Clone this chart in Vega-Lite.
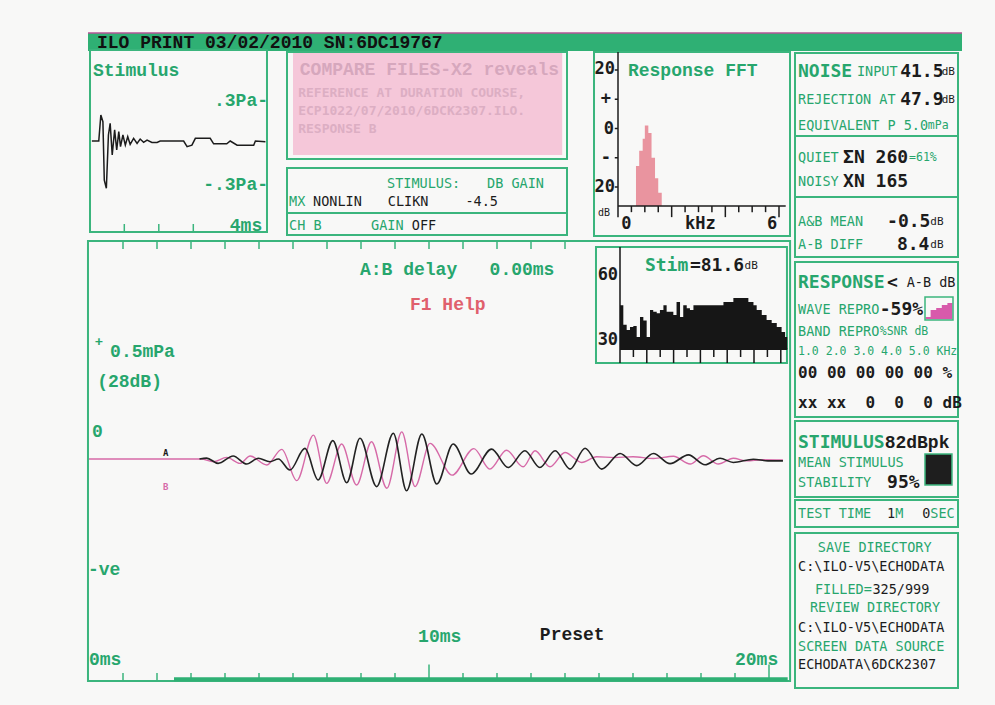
{
"$schema":"https://vega.github.io/schema/vega-lite/v6.json",
"width":995,"height":705,"padding":0,"autosize":"none",
"background":"#f8f8f7",
"config":{"view":{"stroke":null},"axis":{"disable":true},"legend":{"disable":true}},
"datasets":{
"stim":[{"t":0.06,"p":0},{"t":0.26,"p":0},{"t":0.32,"p":0.186},{"t":0.38,"p":0.138},{"t":0.42,"p":-0.279},{"t":0.48,"p":-0.338},{"t":0.54,"p":0.043},{"t":0.59,"p":0.126},{"t":0.65,"p":-0.1},{"t":0.72,"p":0.079},{"t":0.78,"p":-0.064},{"t":0.84,"p":0.067},{"t":0.89,"p":-0.04},{"t":0.96,"p":0.043},{"t":1.03,"p":-0.029},{"t":1.1,"p":0.031},{"t":1.17,"p":-0.024},{"t":1.27,"p":0.019},{"t":1.37,"p":-0.017},{"t":1.46,"p":0.014},{"t":1.56,"p":-0.01},{"t":1.66,"p":0.007},{"t":1.8,"p":-0.01},{"t":1.95,"p":-0.01},{"t":2.04,"p":0},{"t":2.72,"p":0},{"t":2.82,"p":-0.04},{"t":2.96,"p":-0.03},{"t":3.06,"p":0.019},{"t":3.49,"p":0.019},{"t":3.59,"p":-0.02},{"t":3.97,"p":-0.02},{"t":4.07,"p":0},{"t":4.27,"p":-0.03},{"t":4.75,"p":-0.03},{"t":4.8,"p":0},{"t":5.09,"p":-0.005}],
"stm_ticks":[{"t":1},{"t":2},{"t":3}],
"stm_text":[{"text":"Stimulus","t":0.093,"p":0.5,"role":"title"},{"text":".3Pa-","t":5.165,"p":0.286,"role":"scale"},{"text":"-.3Pa-","t":5.165,"p":-0.314,"role":"scale"},{"text":"4ms","t":4.997,"p":-0.607,"role":"scale"}],
"mid_boxes":[{"from":0,"to":5},{"from":5.5,"to":8.5}],
"mid_text":[{"col":1.6,"line":1,"text":"COMPARE FILES-X2 reveals","role":"fadedTitle"},{"col":1.4,"line":2,"text":"REFERENCE AT DURATION COURSE,","role":"faded"},{"col":1.4,"line":3,"text":"ECP1022/07/2010/6DCK2307.ILO.","role":"faded"},{"col":1.4,"line":4,"text":"RESPONSE B","role":"faded"},{"col":12.5,"line":6,"text":"STIMULUS:","role":"label"},{"col":25,"line":6,"text":"DB GAIN","role":"label"},{"col":0.25,"line":7,"text":"MX","role":"label"},{"col":3.25,"line":7,"text":"NONLIN","role":"text"},{"col":12.6,"line":7,"text":"CLIKN","role":"text"},{"col":22.3,"line":7,"text":"-4.5","role":"text"},{"col":0.25,"line":8,"text":"CH B","role":"label"},{"col":10.5,"line":8,"text":"GAIN","role":"label"},{"col":15.6,"line":8,"text":"OFF","role":"text"}],
"fft":[{"f":0.67,"d":-12.8},{"f":0.79,"d":-7.6},{"f":0.92,"d":-3.5},{"f":1.0,"d":1.0},{"f":1.13,"d":-1.5},{"f":1.25,"d":-10},{"f":1.38,"d":-17},{"f":1.5,"d":-22},{"f":1.63,"d":-26.5}],
"fft_ticks":[{"f":0,"major":true},{"f":0.5,"major":false},{"f":1,"major":false},{"f":1.5,"major":false},{"f":2,"major":true},{"f":2.5,"major":false},{"f":3,"major":false},{"f":3.5,"major":false},{"f":4,"major":true},{"f":4.5,"major":false},{"f":5,"major":false},{"f":5.5,"major":false},{"f":6,"major":true}],
"fft_yticks":[{"d":20},{"d":10},{"d":0},{"d":-10},{"d":-20}],
"fft_text":[{"text":"Response FFT","f":0.37,"d":19.7,"role":"title"},{"text":"20","f":-0.11,"d":20.5,"role":"axis"},{"text":"+","f":-0.26,"d":10,"role":"axis"},{"text":"0","f":-0.15,"d":0,"role":"axis"},{"text":"-","f":-0.26,"d":-10,"role":"axis"},{"text":"20","f":-0.11,"d":-20,"role":"axis"},{"text":"dB","f":-0.75,"d":-29,"role":"unit"},{"text":"0","f":0.12,"d":-32.5,"role":"tick"},{"text":"kHz","f":2.5,"d":-32.5,"role":"tick"},{"text":"6","f":5.55,"d":-32.5,"role":"tick"}],
"rc_boxes":[{"from":0,"to":3.5},{"from":3.5,"to":5.5},{"from":5.5,"to":7.5},{"from":7.55,"to":13.5},{"from":13.55,"to":16.5},{"from":16.55,"to":17.5},{"from":17.55,"to":24.5}],
"icon":[{"b":0.1,"l":1.3},{"b":1,"l":4.3},{"b":2,"l":5.2},{"b":3,"l":6.5},{"b":4,"l":7.4},{"b":4.9,"l":7.4}],
"rc":[{"line":1,"col":0.37,"text":"NOISE","role":"heading"},{"line":1,"col":7.6,"text":"INPUT","role":"label"},{"line":1,"col":12.9,"text":"41.5","role":"value"},{"line":1,"col":18.0,"text":"dB","role":"unit"},
{"line":2,"col":0.37,"text":"REJECTION AT","role":"label"},{"line":2,"col":12.9,"text":"47.9","role":"value"},{"line":2,"col":18.0,"text":"dB","role":"unit"},
{"line":3,"col":0.37,"text":"EQUIVALENT P 5.0","role":"label"},{"line":3,"col":16.3,"text":"mPa","role":"sublabel"},
{"line":4,"col":0.37,"text":"QUIET","role":"label"},{"line":4,"col":5.9,"text":"ΣN 260","role":"value"},{"line":4,"col":14.0,"text":"=61%","role":"sublabel"},
{"line":5,"col":0.37,"text":"NOISY","role":"label"},{"line":5,"col":5.9,"text":"XN 165","role":"value"},
{"line":6,"col":0.37,"text":"A&B MEAN","role":"label"},{"line":6,"col":11.3,"text":"-0.5","role":"value"},{"line":6,"col":16.6,"text":"dB","role":"unit"},
{"line":7,"col":0.37,"text":"A-B DIFF","role":"label"},{"line":7,"col":12.5,"text":"8.4","role":"value"},{"line":7,"col":16.6,"text":"dB","role":"unit"},
{"line":8,"col":0.37,"text":"RESPONSE","role":"heading"},{"line":8,"col":11.3,"text":"<","role":"value"},{"line":8,"col":13.7,"text":"A-B dB","role":"text"},
{"line":9,"col":0.37,"text":"WAVE REPRO","role":"label"},{"line":9,"col":10.4,"text":"-59%","role":"value"},
{"line":10,"col":0.37,"text":"BAND REPRO","role":"label"},{"line":10,"col":10.4,"text":"%SNR dB","role":"sublabel"},
{"line":11,"col":0.37,"text":"1.0 2.0 3.0 4.0 5.0 KHz","role":"sublabel"},
{"line":12,"col":0.37,"text":"00 00 00 00 00 %","role":"count"},
{"line":13,"col":0.37,"text":"xx xx\u00a0\u00a00\u00a0\u00a00\u00a0\u00a00 dB","role":"count"},
{"line":14,"col":0.37,"text":"STIMULUS","role":"heading"},{"line":14,"col":11.0,"text":"82dBpk","role":"preset"},
{"line":15,"col":0.37,"text":"MEAN STIMULUS","role":"label"},
{"line":16,"col":0.37,"text":"STABILITY","role":"label"},{"line":16,"col":11.3,"text":"95%","role":"value"},
{"line":17,"col":0.37,"text":"TEST TIME","role":"label"},{"line":17,"col":11.3,"text":"1","role":"text"},{"line":17,"col":12.3,"text":"M","role":"label"},{"line":17,"col":15.6,"text":"0","role":"text"},{"line":17,"col":16.6,"text":"SEC","role":"label"},
{"line":18,"col":2.8,"text":"SAVE DIRECTORY","role":"label"},
{"line":19,"col":0.37,"text":"C:\\ILO-V5\\ECHODATA","role":"text"},
{"line":20,"col":2.45,"text":"FILLED=","role":"label"},{"line":20,"col":9.5,"text":"325/999","role":"text"},
{"line":21,"col":1.84,"text":"REVIEW DIRECTORY","role":"label"},
{"line":22,"col":0.37,"text":"C:\\ILO-V5\\ECHODATA","role":"text"},
{"line":23,"col":0.37,"text":"SCREEN DATA SOURCE","role":"label"},
{"line":24,"col":0.37,"text":"ECHODATA\\6DCK2307","role":"text"}],
"main_top":[{"t":1},{"t":2},{"t":3},{"t":4},{"t":5},{"t":6},{"t":7},{"t":8},{"t":9},{"t":10},{"t":11},{"t":12},{"t":13},{"t":14}],
"main_bottom":[{"t":1,"major":false},{"t":2,"major":false},{"t":3,"major":false},{"t":4,"major":false},{"t":5,"major":false},{"t":6,"major":false},{"t":7,"major":false},{"t":8,"major":false},{"t":9,"major":false},{"t":10,"major":true},{"t":11,"major":false},{"t":12,"major":false},{"t":13,"major":false},{"t":14,"major":false},{"t":15,"major":false},{"t":16,"major":false},{"t":17,"major":false},{"t":18,"major":false},{"t":19,"major":false},{"t":20,"major":true}],
"wave_a":[{"t":3.25,"a":0},{"t":3.46,"a":0.004},{"t":3.8,"a":-0.019},{"t":4.24,"a":0.013},{"t":4.64,"a":-0.022},{"t":4.98,"a":0.003},{"t":5.32,"a":-0.012},{"t":5.57,"a":0.0},{"t":5.91,"a":-0.048},{"t":6.35,"a":0.046},{"t":6.74,"a":-0.091},{"t":7.17,"a":0.08},{"t":7.58,"a":-0.103},{"t":7.97,"a":0.09},{"t":8.46,"a":-0.12},{"t":8.95,"a":0.112},{"t":9.34,"a":-0.138},{"t":9.79,"a":0.109},{"t":10.23,"a":-0.109},{"t":10.71,"a":0.065},{"t":11.24,"a":-0.065},{"t":11.84,"a":0.043},{"t":12.33,"a":-0.037},{"t":12.82,"a":0.036},{"t":13.26,"a":-0.037},{"t":13.71,"a":0.036},{"t":14.15,"a":-0.044},{"t":14.59,"a":0.047},{"t":15.08,"a":-0.044},{"t":15.62,"a":0.024},{"t":16.11,"a":-0.029},{"t":16.6,"a":0.024},{"t":17.09,"a":-0.02},{"t":17.63,"a":0.018},{"t":18.12,"a":-0.025},{"t":18.56,"a":0.003},{"t":18.95,"a":-0.015},{"t":19.54,"a":-0.001},{"t":19.97,"a":-0.008},{"t":20.41,"a":-0.008}],
"wave_b":[{"t":0,"a":0},{"t":3.3,"a":0},{"t":3.66,"a":-0.012},{"t":4.05,"a":0.007},{"t":4.44,"a":-0.019},{"t":4.74,"a":0.013},{"t":5.23,"a":-0.026},{"t":5.67,"a":0.042},{"t":6.11,"a":-0.094},{"t":6.6,"a":0.104},{"t":6.99,"a":-0.106},{"t":7.43,"a":0.065},{"t":7.87,"a":-0.113},{"t":8.31,"a":0.075},{"t":8.76,"a":-0.127},{"t":9.2,"a":0.118},{"t":9.59,"a":-0.12},{"t":10.03,"a":0.068},{"t":10.68,"a":-0.07},{"t":11.32,"a":0.045},{"t":11.79,"a":-0.044},{"t":12.28,"a":0.038},{"t":12.77,"a":-0.034},{"t":13.12,"a":0.036},{"t":13.56,"a":-0.034},{"t":14.0,"a":0.028},{"t":14.49,"a":-0.015},{"t":14.93,"a":0.01},{"t":15.45,"a":0.006},{"t":16.0,"a":0.01},{"t":16.6,"a":0.002},{"t":17.19,"a":0.012},{"t":17.68,"a":-0.022},{"t":18.07,"a":0.014},{"t":18.51,"a":-0.022},{"t":18.95,"a":0.003},{"t":19.34,"a":-0.008},{"t":19.8,"a":-0.003},{"t":20.41,"a":-0.004}],
"main_text":[{"text":"A:B delay\u00a0\u00a0\u00a00.00ms","t":7.97,"a":0.822,"role":"title"},{"text":"F1 Help","t":9.44,"a":0.67,"role":"alert"},{"text":"+","t":0.18,"a":0.509,"role":"label"},{"text":"0.5mPa","t":0.62,"a":0.465,"role":"title"},{"text":"(28dB)","t":0.24,"a":0.335,"role":"title"},{"text":"0","t":0.09,"a":0.117,"role":"title"},{"text":"-ve","t":-0.03,"a":-0.483,"role":"title"},{"text":"10ms","t":9.68,"a":-0.774,"role":"title"},{"text":"Preset","t":13.26,"a":-0.765,"role":"preset"},{"text":"0ms","t":0.0,"a":-0.874,"role":"title"},{"text":"20ms","t":19.0,"a":-0.874,"role":"title"},{"text":"A","t":2.18,"a":0.026,"role":"traceA"},{"text":"B","t":2.18,"a":-0.122,"role":"traceB"}],
"spec":[{"f":0,"d":46},{"f":0.124,"d":37},{"f":0.249,"d":34.6},{"f":0.373,"d":36},{"f":0.497,"d":36.5},{"f":0.622,"d":31.4},{"f":0.746,"d":40.6},{"f":0.871,"d":39},{"f":0.995,"d":31.4},{"f":1.12,"d":43.8},{"f":1.24,"d":43},{"f":1.37,"d":42.4},{"f":1.49,"d":43.8},{"f":1.62,"d":46},{"f":1.74,"d":43},{"f":1.87,"d":43},{"f":1.99,"d":41.5},{"f":2.11,"d":47.5},{"f":2.24,"d":40.6},{"f":2.36,"d":46},{"f":2.49,"d":44.7},{"f":2.61,"d":43.8},{"f":2.74,"d":46},{"f":2.86,"d":46},{"f":3.86,"d":47.5},{"f":4.23,"d":49.4},{"f":4.79,"d":47.5},{"f":4.98,"d":46},{"f":5.1,"d":43.8},{"f":5.29,"d":41.5},{"f":5.47,"d":39.2},{"f":5.66,"d":37.8},{"f":5.85,"d":36},{"f":6.03,"d":33.7},{"f":6.16,"d":31.4},{"f":6.24,"d":31.4}],
"ins_ticks":[{"f":0,"major":true},{"f":0.5,"major":false},{"f":1,"major":true},{"f":1.5,"major":false},{"f":2,"major":true},{"f":2.5,"major":false},{"f":3,"major":true},{"f":3.5,"major":false},{"f":4,"major":true},{"f":4.5,"major":false},{"f":5,"major":true},{"f":5.5,"major":false},{"f":6,"major":true}],
"ins_text":[{"text":"Stim","f":0.93,"d":64.1,"role":"heading"},{"text":"=81.6","f":2.61,"d":64.1,"role":"value"},{"text":"dB","f":4.65,"d":64.1,"role":"unit"},{"text":"60","f":-0.07,"d":60,"role":"axis"},{"text":"30","f":-0.07,"d":30,"role":"axis"}]
},
"layer":[
{"data":{"values":[{}]},"mark":{"type":"rect","color":"#2fb074"},"encoding":{"x":{"datum":0,"type":"quantitative","scale":{"domain":[0,1],"range":[88,962],"nice":false,"zero":false}},"x2":{"datum":1},"y":{"datum":0,"type":"quantitative","scale":{"domain":[0,1],"range":[51,33],"nice":false,"zero":false}},"y2":{"datum":1}}},
{"data":{"values":[{}]},"mark":{"type":"rule","color":"#b45596","strokeWidth":1.5},"encoding":{"x":{"datum":0,"type":"quantitative","scale":{"domain":[0,1],"range":[88,962],"nice":false,"zero":false}},"x2":{"datum":1},"y":{"datum":1,"type":"quantitative","scale":{"domain":[0,1],"range":[51,33],"nice":false,"zero":false}}}},
{"data":{"values":[{"label":"ILO PRINT 03/02/2010 SN:6DC19767"}]},"mark":{"type":"text","align":"left","baseline":"middle","font":"Liberation Mono","fontWeight":"bold","fontSize":18,"color":"#111111"},"encoding":{"x":{"datum":0.0103,"type":"quantitative","scale":{"domain":[0,1],"range":[88,962],"nice":false,"zero":false}},"y":{"datum":0.47,"type":"quantitative","scale":{"domain":[0,1],"range":[51,33],"nice":false,"zero":false}},"text":{"field":"label"}}},

{"data":{"values":[{}]},"mark":{"type":"rect","fill":"#ffffff","fillOpacity":0,"stroke":"#3bb57d","strokeWidth":2},"encoding":{"x":{"datum":0.006,"type":"quantitative","scale":{"domain":[0,5],"range":[89.8,262.3],"nice":false,"zero":false}},"x2":{"datum":5.136},"y":{"datum":0.65,"type":"quantitative","scale":{"domain":[-0.3,0.3],"range":[183,99],"nice":false,"zero":false}},"y2":{"datum":-0.65}}},
{"data":{"name":"stm_ticks"},"mark":{"type":"rule","color":"#3bb57d","strokeWidth":1.5},"encoding":{"x":{"field":"t","type":"quantitative","scale":{"domain":[0,5],"range":[89.8,262.3],"nice":false,"zero":false}},"y":{"datum":-0.65,"type":"quantitative","scale":{"domain":[-0.3,0.3],"range":[183,99],"nice":false,"zero":false}},"y2":{"datum":-0.593}}},
{"data":{"name":"stim"},"mark":{"type":"line","color":"#1c1c1c","strokeWidth":1.5},"encoding":{"x":{"field":"t","type":"quantitative","scale":{"domain":[0,5],"range":[89.8,262.3],"nice":false,"zero":false}},"y":{"field":"p","type":"quantitative","scale":{"domain":[-0.3,0.3],"range":[183,99],"nice":false,"zero":false}}}},
{"data":{"name":"stm_text"},"transform":[{"filter":"datum.role==='title'"}],"mark":{"type":"text","align":"left","baseline":"middle","font":"Liberation Mono","fontWeight":"bold","fontSize":18,"color":"#27a66d"},"encoding":{"x":{"field":"t","type":"quantitative","scale":{"domain":[0,5],"range":[89.8,262.3],"nice":false,"zero":false}},"y":{"field":"p","type":"quantitative","scale":{"domain":[-0.3,0.3],"range":[183,99],"nice":false,"zero":false}},"text":{"field":"text"}}},
{"data":{"name":"stm_text"},"transform":[{"filter":"datum.role==='scale'"}],"mark":{"type":"text","align":"right","baseline":"middle","font":"Liberation Mono","fontWeight":"bold","fontSize":18,"color":"#27a66d"},"encoding":{"x":{"field":"t","type":"quantitative","scale":{"domain":[0,5],"range":[89.8,262.3],"nice":false,"zero":false}},"y":{"field":"p","type":"quantitative","scale":{"domain":[-0.3,0.3],"range":[183,99],"nice":false,"zero":false}},"text":{"field":"text"}}},

{"data":{"values":[{}]},"mark":{"type":"rect","color":"#f5c7d9"},"encoding":{"x":{"datum":0.75,"type":"quantitative","scale":{"domain":[0,35],"range":[287,567],"nice":false,"zero":false}},"x2":{"datum":34.4},"y":{"datum":0,"type":"quantitative","scale":{"domain":[0,1,2,3,4,4.8,5,5.5,6,7,7.5,8,8.5],"range":[52,70,93,111,129,155,159,168,184,202,213,226,235],"nice":false,"zero":false}},"y2":{"datum":4.8}}},
{"data":{"name":"mid_boxes"},"mark":{"type":"rect","fill":"#ffffff","fillOpacity":0,"stroke":"#3bb57d","strokeWidth":2},"encoding":{"x":{"datum":0,"type":"quantitative","scale":{"domain":[0,35],"range":[287,567],"nice":false,"zero":false}},"x2":{"datum":35},"y":{"field":"from","type":"quantitative","scale":{"domain":[0,1,2,3,4,4.8,5,5.5,6,7,7.5,8,8.5],"range":[52,70,93,111,129,155,159,168,184,202,213,226,235],"nice":false,"zero":false}},"y2":{"field":"to"}}},
{"data":{"values":[{}]},"mark":{"type":"rule","color":"#3bb57d","strokeWidth":2},"encoding":{"x":{"datum":0,"type":"quantitative","scale":{"domain":[0,35],"range":[287,567],"nice":false,"zero":false}},"x2":{"datum":35},"y":{"datum":7.5,"type":"quantitative","scale":{"domain":[0,1,2,3,4,4.8,5,5.5,6,7,7.5,8,8.5],"range":[52,70,93,111,129,155,159,168,184,202,213,226,235],"nice":false,"zero":false}}}},
{"data":{"name":"mid_text"},"transform":[{"filter":"datum.role==='fadedTitle'"}],"mark":{"type":"text","align":"left","baseline":"middle","font":"Liberation Mono","fontWeight":"bold","fontSize":18,"color":"#d6a7bd"},"encoding":{"x":{"field":"col","type":"quantitative","scale":{"domain":[0,35],"range":[287,567],"nice":false,"zero":false}},"y":{"field":"line","type":"quantitative","scale":{"domain":[0,1,2,3,4,4.8,5,5.5,6,7,7.5,8,8.5],"range":[52,70,93,111,129,155,159,168,184,202,213,226,235],"nice":false,"zero":false}},"text":{"field":"text"}}},
{"data":{"name":"mid_text"},"transform":[{"filter":"datum.role==='faded'"}],"mark":{"type":"text","align":"left","baseline":"middle","font":"DejaVu Sans Mono","fontWeight":"bold","fontSize":13,"color":"#dcaec3"},"encoding":{"x":{"field":"col","type":"quantitative","scale":{"domain":[0,35],"range":[287,567],"nice":false,"zero":false}},"y":{"field":"line","type":"quantitative","scale":{"domain":[0,1,2,3,4,4.8,5,5.5,6,7,7.5,8,8.5],"range":[52,70,93,111,129,155,159,168,184,202,213,226,235],"nice":false,"zero":false}},"text":{"field":"text"}}},
{"data":{"name":"mid_text"},"transform":[{"filter":"datum.role==='label'"}],"mark":{"type":"text","align":"left","baseline":"middle","font":"DejaVu Sans Mono","fontSize":13.5,"color":"#27a66d"},"encoding":{"x":{"field":"col","type":"quantitative","scale":{"domain":[0,35],"range":[287,567],"nice":false,"zero":false}},"y":{"field":"line","type":"quantitative","scale":{"domain":[0,1,2,3,4,4.8,5,5.5,6,7,7.5,8,8.5],"range":[52,70,93,111,129,155,159,168,184,202,213,226,235],"nice":false,"zero":false}},"text":{"field":"text"}}},
{"data":{"name":"mid_text"},"transform":[{"filter":"datum.role==='text'"}],"mark":{"type":"text","align":"left","baseline":"middle","font":"DejaVu Sans Mono","fontSize":13.5,"color":"#1c1c1c"},"encoding":{"x":{"field":"col","type":"quantitative","scale":{"domain":[0,35],"range":[287,567],"nice":false,"zero":false}},"y":{"field":"line","type":"quantitative","scale":{"domain":[0,1,2,3,4,4.8,5,5.5,6,7,7.5,8,8.5],"range":[52,70,93,111,129,155,159,168,184,202,213,226,235],"nice":false,"zero":false}},"text":{"field":"text"}}},

{"data":{"values":[{}]},"mark":{"type":"rect","fill":"#ffffff","fillOpacity":0,"stroke":"#3bb57d","strokeWidth":2},"encoding":{"x":{"datum":-0.894,"type":"quantitative","scale":{"domain":[0,6],"range":[618,779],"nice":false,"zero":false}},"x2":{"datum":6.41},"y":{"datum":26.15,"type":"quantitative","scale":{"domain":[-20,20],"range":[187,70],"nice":false,"zero":false}},"y2":{"datum":-36.75}}},
{"data":{"name":"fft"},"mark":{"type":"area","interpolate":"step-after","color":"#e9949f"},"encoding":{"x":{"field":"f","type":"quantitative","scale":{"domain":[0,6],"range":[618,779],"nice":false,"zero":false}},"y":{"field":"d","type":"quantitative","scale":{"domain":[-20,20],"range":[187,70],"nice":false,"zero":false}},"y2":{"datum":-26.5}}},
{"data":{"values":[{}]},"mark":{"type":"rule","color":"#1c1c1c","strokeWidth":1.5},"encoding":{"x":{"datum":0,"type":"quantitative","scale":{"domain":[0,6],"range":[618,779],"nice":false,"zero":false}},"y":{"datum":26.15,"type":"quantitative","scale":{"domain":[-20,20],"range":[187,70],"nice":false,"zero":false}},"y2":{"datum":-26.5}}},
{"data":{"values":[{}]},"mark":{"type":"rule","color":"#1c1c1c","strokeWidth":1.5},"encoding":{"x":{"datum":0,"type":"quantitative","scale":{"domain":[0,6],"range":[618,779],"nice":false,"zero":false}},"x2":{"datum":6.25},"y":{"datum":-26.5,"type":"quantitative","scale":{"domain":[-20,20],"range":[187,70],"nice":false,"zero":false}}}},
{"data":{"name":"fft_ticks"},"transform":[{"filter":"!datum.major"}],"mark":{"type":"rule","color":"#1c1c1c","strokeWidth":1.5},"encoding":{"x":{"field":"f","type":"quantitative","scale":{"domain":[0,6],"range":[618,779],"nice":false,"zero":false}},"y":{"datum":-26.5,"type":"quantitative","scale":{"domain":[-20,20],"range":[187,70],"nice":false,"zero":false}},"y2":{"datum":-28.6}}},
{"data":{"name":"fft_ticks"},"transform":[{"filter":"datum.major"}],"mark":{"type":"rule","color":"#1c1c1c","strokeWidth":1.5},"encoding":{"x":{"field":"f","type":"quantitative","scale":{"domain":[0,6],"range":[618,779],"nice":false,"zero":false}},"y":{"datum":-26.5,"type":"quantitative","scale":{"domain":[-20,20],"range":[187,70],"nice":false,"zero":false}},"y2":{"datum":-30.3}}},
{"data":{"name":"fft_yticks"},"mark":{"type":"rule","color":"#1c1c1c","strokeWidth":1.5},"encoding":{"x":{"datum":-0.12,"type":"quantitative","scale":{"domain":[0,6],"range":[618,779],"nice":false,"zero":false}},"x2":{"datum":0},"y":{"field":"d","type":"quantitative","scale":{"domain":[-20,20],"range":[187,70],"nice":false,"zero":false}}}},
{"data":{"name":"fft_text"},"transform":[{"filter":"datum.role==='title'"}],"mark":{"type":"text","align":"left","baseline":"middle","font":"Liberation Mono","fontWeight":"bold","fontSize":18,"color":"#27a66d"},"encoding":{"x":{"field":"f","type":"quantitative","scale":{"domain":[0,6],"range":[618,779],"nice":false,"zero":false}},"y":{"field":"d","type":"quantitative","scale":{"domain":[-20,20],"range":[187,70],"nice":false,"zero":false}},"text":{"field":"text"}}},
{"data":{"name":"fft_text"},"transform":[{"filter":"datum.role==='axis'"}],"mark":{"type":"text","align":"right","baseline":"middle","font":"DejaVu Sans Mono","fontWeight":"bold","fontSize":17,"color":"#1c1c1c"},"encoding":{"x":{"field":"f","type":"quantitative","scale":{"domain":[0,6],"range":[618,779],"nice":false,"zero":false}},"y":{"field":"d","type":"quantitative","scale":{"domain":[-20,20],"range":[187,70],"nice":false,"zero":false}},"text":{"field":"text"}}},
{"data":{"name":"fft_text"},"transform":[{"filter":"datum.role==='tick'"}],"mark":{"type":"text","align":"left","baseline":"middle","font":"DejaVu Sans Mono","fontWeight":"bold","fontSize":17,"color":"#1c1c1c"},"encoding":{"x":{"field":"f","type":"quantitative","scale":{"domain":[0,6],"range":[618,779],"nice":false,"zero":false}},"y":{"field":"d","type":"quantitative","scale":{"domain":[-20,20],"range":[187,70],"nice":false,"zero":false}},"text":{"field":"text"}}},
{"data":{"name":"fft_text"},"transform":[{"filter":"datum.role==='unit'"}],"mark":{"type":"text","align":"left","baseline":"middle","font":"DejaVu Sans Mono","fontSize":10,"color":"#1c1c1c"},"encoding":{"x":{"field":"f","type":"quantitative","scale":{"domain":[0,6],"range":[618,779],"nice":false,"zero":false}},"y":{"field":"d","type":"quantitative","scale":{"domain":[-20,20],"range":[187,70],"nice":false,"zero":false}},"text":{"field":"text"}}},

{"data":{"name":"rc_boxes"},"mark":{"type":"rect","fill":"#ffffff","fillOpacity":0,"stroke":"#3bb57d","strokeWidth":2},"encoding":{"x":{"datum":0,"type":"quantitative","scale":{"domain":[0,20],"range":[795,958],"nice":false,"zero":false}},"x2":{"datum":20},"y":{"field":"from","type":"quantitative","scale":{"domain":[0,1,2,3,3.5,4,5,5.5,6,7,7.5,7.55,8,9,10,11,12,13,13.5,13.55,14,15,16,16.5,16.55,17,17.5,17.55,18,19,20,21,22,23,24,24.5],"range":[53,72,100,126,136,158,182,197,222,245,257,262,283,310,332,352,373,403,417,421,443,463,483,497,500,514,527,533,548,567,590,608,628,647,665,688],"nice":false,"zero":false}},"y2":{"field":"to"}}},
{"data":{"name":"icon"},"mark":{"type":"area","interpolate":"step-after","color":"#d85aab"},"encoding":{"x":{"field":"b","type":"quantitative","scale":{"domain":[0,5],"range":[925,953],"nice":false,"zero":false}},"y":{"field":"l","type":"quantitative","scale":{"domain":[0,10],"range":[320,297],"nice":false,"zero":false}},"y2":{"datum":0.3}}},
{"data":{"values":[{}]},"mark":{"type":"rect","fill":"#ffffff","fillOpacity":0,"stroke":"#3bb57d","strokeWidth":1.5},"encoding":{"x":{"datum":0,"type":"quantitative","scale":{"domain":[0,5],"range":[925,953],"nice":false,"zero":false}},"x2":{"datum":5},"y":{"datum":0,"type":"quantitative","scale":{"domain":[0,10],"range":[320,297],"nice":false,"zero":false}},"y2":{"datum":10}}},
{"data":{"values":[{}]},"mark":{"type":"rect","color":"#1e1e1e","stroke":"#3bb57d","strokeWidth":1.5},"encoding":{"x":{"datum":15.95,"type":"quantitative","scale":{"domain":[0,20],"range":[795,958],"nice":false,"zero":false}},"x2":{"datum":19.26},"y":{"datum":14.55,"type":"quantitative","scale":{"domain":[0,1,2,3,3.5,4,5,5.5,6,7,7.5,7.55,8,9,10,11,12,13,13.5,13.55,14,15,16,16.5,16.55,17,17.5,17.55,18,19,20,21,22,23,24,24.5],"range":[53,72,100,126,136,158,182,197,222,245,257,262,283,310,332,352,373,403,417,421,443,463,483,497,500,514,527,533,548,567,590,608,628,647,665,688],"nice":false,"zero":false}},"y2":{"datum":16.07}}},
{"data":{"name":"rc"},"transform":[{"filter":"datum.role==='heading'"}],"mark":{"type":"text","align":"left","baseline":"middle","font":"DejaVu Sans Mono","fontWeight":"bold","fontSize":18,"color":"#27a66d"},"encoding":{"x":{"field":"col","type":"quantitative","scale":{"domain":[0,20],"range":[795,958],"nice":false,"zero":false}},"y":{"field":"line","type":"quantitative","scale":{"domain":[0,1,2,3,3.5,4,5,5.5,6,7,7.5,7.55,8,9,10,11,12,13,13.5,13.55,14,15,16,16.5,16.55,17,17.5,17.55,18,19,20,21,22,23,24,24.5],"range":[53,72,100,126,136,158,182,197,222,245,257,262,283,310,332,352,373,403,417,421,443,463,483,497,500,514,527,533,548,567,590,608,628,647,665,688],"nice":false,"zero":false}},"text":{"field":"text"}}},
{"data":{"name":"rc"},"transform":[{"filter":"datum.role==='label'"}],"mark":{"type":"text","align":"left","baseline":"middle","font":"DejaVu Sans Mono","fontSize":13.5,"color":"#27a66d"},"encoding":{"x":{"field":"col","type":"quantitative","scale":{"domain":[0,20],"range":[795,958],"nice":false,"zero":false}},"y":{"field":"line","type":"quantitative","scale":{"domain":[0,1,2,3,3.5,4,5,5.5,6,7,7.5,7.55,8,9,10,11,12,13,13.5,13.55,14,15,16,16.5,16.55,17,17.5,17.55,18,19,20,21,22,23,24,24.5],"range":[53,72,100,126,136,158,182,197,222,245,257,262,283,310,332,352,373,403,417,421,443,463,483,497,500,514,527,533,548,567,590,608,628,647,665,688],"nice":false,"zero":false}},"text":{"field":"text"}}},
{"data":{"name":"rc"},"transform":[{"filter":"datum.role==='sublabel'"}],"mark":{"type":"text","align":"left","baseline":"middle","font":"DejaVu Sans Mono","fontSize":11.5,"color":"#27a66d"},"encoding":{"x":{"field":"col","type":"quantitative","scale":{"domain":[0,20],"range":[795,958],"nice":false,"zero":false}},"y":{"field":"line","type":"quantitative","scale":{"domain":[0,1,2,3,3.5,4,5,5.5,6,7,7.5,7.55,8,9,10,11,12,13,13.5,13.55,14,15,16,16.5,16.55,17,17.5,17.55,18,19,20,21,22,23,24,24.5],"range":[53,72,100,126,136,158,182,197,222,245,257,262,283,310,332,352,373,403,417,421,443,463,483,497,500,514,527,533,548,567,590,608,628,647,665,688],"nice":false,"zero":false}},"text":{"field":"text"}}},
{"data":{"name":"rc"},"transform":[{"filter":"datum.role==='value'"}],"mark":{"type":"text","align":"left","baseline":"middle","font":"DejaVu Sans Mono","fontWeight":"bold","fontSize":18,"color":"#1c1c1c"},"encoding":{"x":{"field":"col","type":"quantitative","scale":{"domain":[0,20],"range":[795,958],"nice":false,"zero":false}},"y":{"field":"line","type":"quantitative","scale":{"domain":[0,1,2,3,3.5,4,5,5.5,6,7,7.5,7.55,8,9,10,11,12,13,13.5,13.55,14,15,16,16.5,16.55,17,17.5,17.55,18,19,20,21,22,23,24,24.5],"range":[53,72,100,126,136,158,182,197,222,245,257,262,283,310,332,352,373,403,417,421,443,463,483,497,500,514,527,533,548,567,590,608,628,647,665,688],"nice":false,"zero":false}},"text":{"field":"text"}}},
{"data":{"name":"rc"},"transform":[{"filter":"datum.role==='unit'"}],"mark":{"type":"text","align":"left","baseline":"middle","font":"DejaVu Sans Mono","fontSize":11,"color":"#1c1c1c"},"encoding":{"x":{"field":"col","type":"quantitative","scale":{"domain":[0,20],"range":[795,958],"nice":false,"zero":false}},"y":{"field":"line","type":"quantitative","scale":{"domain":[0,1,2,3,3.5,4,5,5.5,6,7,7.5,7.55,8,9,10,11,12,13,13.5,13.55,14,15,16,16.5,16.55,17,17.5,17.55,18,19,20,21,22,23,24,24.5],"range":[53,72,100,126,136,158,182,197,222,245,257,262,283,310,332,352,373,403,417,421,443,463,483,497,500,514,527,533,548,567,590,608,628,647,665,688],"nice":false,"zero":false}},"text":{"field":"text"}}},
{"data":{"name":"rc"},"transform":[{"filter":"datum.role==='count'"}],"mark":{"type":"text","align":"left","baseline":"middle","font":"DejaVu Sans Mono","fontWeight":"bold","fontSize":16,"color":"#1c1c1c"},"encoding":{"x":{"field":"col","type":"quantitative","scale":{"domain":[0,20],"range":[795,958],"nice":false,"zero":false}},"y":{"field":"line","type":"quantitative","scale":{"domain":[0,1,2,3,3.5,4,5,5.5,6,7,7.5,7.55,8,9,10,11,12,13,13.5,13.55,14,15,16,16.5,16.55,17,17.5,17.55,18,19,20,21,22,23,24,24.5],"range":[53,72,100,126,136,158,182,197,222,245,257,262,283,310,332,352,373,403,417,421,443,463,483,497,500,514,527,533,548,567,590,608,628,647,665,688],"nice":false,"zero":false}},"text":{"field":"text"}}},
{"data":{"name":"rc"},"transform":[{"filter":"datum.role==='text'"}],"mark":{"type":"text","align":"left","baseline":"middle","font":"DejaVu Sans Mono","fontSize":13.5,"color":"#1c1c1c"},"encoding":{"x":{"field":"col","type":"quantitative","scale":{"domain":[0,20],"range":[795,958],"nice":false,"zero":false}},"y":{"field":"line","type":"quantitative","scale":{"domain":[0,1,2,3,3.5,4,5,5.5,6,7,7.5,7.55,8,9,10,11,12,13,13.5,13.55,14,15,16,16.5,16.55,17,17.5,17.55,18,19,20,21,22,23,24,24.5],"range":[53,72,100,126,136,158,182,197,222,245,257,262,283,310,332,352,373,403,417,421,443,463,483,497,500,514,527,533,548,567,590,608,628,647,665,688],"nice":false,"zero":false}},"text":{"field":"text"}}},
{"data":{"name":"rc"},"transform":[{"filter":"datum.role==='preset'"}],"mark":{"type":"text","align":"left","baseline":"middle","font":"Liberation Mono","fontWeight":"bold","fontSize":18,"color":"#1c1c1c"},"encoding":{"x":{"field":"col","type":"quantitative","scale":{"domain":[0,20],"range":[795,958],"nice":false,"zero":false}},"y":{"field":"line","type":"quantitative","scale":{"domain":[0,1,2,3,3.5,4,5,5.5,6,7,7.5,7.55,8,9,10,11,12,13,13.5,13.55,14,15,16,16.5,16.55,17,17.5,17.55,18,19,20,21,22,23,24,24.5],"range":[53,72,100,126,136,158,182,197,222,245,257,262,283,310,332,352,373,403,417,421,443,463,483,497,500,514,527,533,548,567,590,608,628,647,665,688],"nice":false,"zero":false}},"text":{"field":"text"}}},

{"data":{"values":[{}]},"mark":{"type":"rect","fill":"#ffffff","fillOpacity":0,"stroke":"#3bb57d","strokeWidth":2},"encoding":{"x":{"datum":-0.03,"type":"quantitative","scale":{"domain":[0,20],"range":[89,769],"nice":false,"zero":false}},"x2":{"datum":20.62},"y":{"datum":0.948,"type":"quantitative","scale":{"domain":[-0.5,0.5],"range":[574,344],"nice":false,"zero":false}},"y2":{"datum":-0.965}}},
{"data":{"name":"main_top"},"mark":{"type":"rule","color":"#3bb57d","strokeWidth":1.5},"encoding":{"x":{"field":"t","type":"quantitative","scale":{"domain":[0,20],"range":[89,769],"nice":false,"zero":false}},"y":{"datum":0.948,"type":"quantitative","scale":{"domain":[-0.5,0.5],"range":[574,344],"nice":false,"zero":false}},"y2":{"datum":0.913}}},
{"data":{"name":"main_bottom"},"transform":[{"filter":"!datum.major"}],"mark":{"type":"rule","color":"#3bb57d","strokeWidth":1.5},"encoding":{"x":{"field":"t","type":"quantitative","scale":{"domain":[0,20],"range":[89,769],"nice":false,"zero":false}},"y":{"datum":-0.965,"type":"quantitative","scale":{"domain":[-0.5,0.5],"range":[574,344],"nice":false,"zero":false}},"y2":{"datum":-0.93}}},
{"data":{"name":"main_bottom"},"transform":[{"filter":"datum.major"}],"mark":{"type":"rule","color":"#3bb57d","strokeWidth":1.5},"encoding":{"x":{"field":"t","type":"quantitative","scale":{"domain":[0,20],"range":[89,769],"nice":false,"zero":false}},"y":{"datum":-0.965,"type":"quantitative","scale":{"domain":[-0.5,0.5],"range":[574,344],"nice":false,"zero":false}},"y2":{"datum":-0.893}}},
{"data":{"values":[{}]},"mark":{"type":"rule","color":"#2fb074","strokeWidth":4},"encoding":{"x":{"datum":2.5,"type":"quantitative","scale":{"domain":[0,20],"range":[89,769],"nice":false,"zero":false}},"x2":{"datum":20.55},"y":{"datum":-0.958,"type":"quantitative","scale":{"domain":[-0.5,0.5],"range":[574,344],"nice":false,"zero":false}}}},
{"data":{"name":"wave_b"},"mark":{"type":"line","interpolate":"monotone","color":"#d66aa8","strokeWidth":1.4},"encoding":{"x":{"field":"t","type":"quantitative","scale":{"domain":[0,20],"range":[89,769],"nice":false,"zero":false}},"y":{"field":"a","type":"quantitative","scale":{"domain":[-0.5,0.5],"range":[574,344],"nice":false,"zero":false}}}},
{"data":{"name":"wave_a"},"mark":{"type":"line","interpolate":"monotone","color":"#222222","strokeWidth":1.6},"encoding":{"x":{"field":"t","type":"quantitative","scale":{"domain":[0,20],"range":[89,769],"nice":false,"zero":false}},"y":{"field":"a","type":"quantitative","scale":{"domain":[-0.5,0.5],"range":[574,344],"nice":false,"zero":false}}}},
{"data":{"name":"main_text"},"transform":[{"filter":"datum.role==='title'"}],"mark":{"type":"text","align":"left","baseline":"middle","font":"Liberation Mono","fontWeight":"bold","fontSize":18,"color":"#27a66d"},"encoding":{"x":{"field":"t","type":"quantitative","scale":{"domain":[0,20],"range":[89,769],"nice":false,"zero":false}},"y":{"field":"a","type":"quantitative","scale":{"domain":[-0.5,0.5],"range":[574,344],"nice":false,"zero":false}},"text":{"field":"text"}}},
{"data":{"name":"main_text"},"transform":[{"filter":"datum.role==='alert'"}],"mark":{"type":"text","align":"left","baseline":"middle","font":"Liberation Mono","fontWeight":"bold","fontSize":18,"color":"#e0606c"},"encoding":{"x":{"field":"t","type":"quantitative","scale":{"domain":[0,20],"range":[89,769],"nice":false,"zero":false}},"y":{"field":"a","type":"quantitative","scale":{"domain":[-0.5,0.5],"range":[574,344],"nice":false,"zero":false}},"text":{"field":"text"}}},
{"data":{"name":"main_text"},"transform":[{"filter":"datum.role==='preset'"}],"mark":{"type":"text","align":"left","baseline":"middle","font":"Liberation Mono","fontWeight":"bold","fontSize":18,"color":"#1c1c1c"},"encoding":{"x":{"field":"t","type":"quantitative","scale":{"domain":[0,20],"range":[89,769],"nice":false,"zero":false}},"y":{"field":"a","type":"quantitative","scale":{"domain":[-0.5,0.5],"range":[574,344],"nice":false,"zero":false}},"text":{"field":"text"}}},
{"data":{"name":"main_text"},"transform":[{"filter":"datum.role==='label'"}],"mark":{"type":"text","align":"left","baseline":"middle","font":"DejaVu Sans Mono","fontWeight":"bold","fontSize":13,"color":"#27a66d"},"encoding":{"x":{"field":"t","type":"quantitative","scale":{"domain":[0,20],"range":[89,769],"nice":false,"zero":false}},"y":{"field":"a","type":"quantitative","scale":{"domain":[-0.5,0.5],"range":[574,344],"nice":false,"zero":false}},"text":{"field":"text"}}},
{"data":{"name":"main_text"},"transform":[{"filter":"datum.role==='traceA'"}],"mark":{"type":"text","align":"left","baseline":"middle","font":"DejaVu Sans Mono","fontWeight":"bold","fontSize":9,"color":"#1c1c1c"},"encoding":{"x":{"field":"t","type":"quantitative","scale":{"domain":[0,20],"range":[89,769],"nice":false,"zero":false}},"y":{"field":"a","type":"quantitative","scale":{"domain":[-0.5,0.5],"range":[574,344],"nice":false,"zero":false}},"text":{"field":"text"}}},
{"data":{"name":"main_text"},"transform":[{"filter":"datum.role==='traceB'"}],"mark":{"type":"text","align":"left","baseline":"middle","font":"DejaVu Sans Mono","fontWeight":"bold","fontSize":9,"color":"#d66aa8"},"encoding":{"x":{"field":"t","type":"quantitative","scale":{"domain":[0,20],"range":[89,769],"nice":false,"zero":false}},"y":{"field":"a","type":"quantitative","scale":{"domain":[-0.5,0.5],"range":[574,344],"nice":false,"zero":false}},"text":{"field":"text"}}},

{"data":{"values":[{}]},"mark":{"type":"rect","fill":"#f8f8f7","stroke":"#3bb57d","strokeWidth":2},"encoding":{"x":{"datum":-0.896,"type":"quantitative","scale":{"domain":[0,6],"range":[620,780.8],"nice":false,"zero":false}},"x2":{"datum":6.23},"y":{"datum":72.9,"type":"quantitative","scale":{"domain":[30,60],"range":[340,275],"nice":false,"zero":false}},"y2":{"datum":19.4}}},
{"data":{"name":"spec"},"mark":{"type":"area","interpolate":"step-after","color":"#161616"},"encoding":{"x":{"field":"f","type":"quantitative","scale":{"domain":[0,6],"range":[620,780.8],"nice":false,"zero":false}},"y":{"field":"d","type":"quantitative","scale":{"domain":[30,60],"range":[340,275],"nice":false,"zero":false}},"y2":{"datum":25.85}}},
{"data":{"values":[{}]},"mark":{"type":"rule","color":"#161616","strokeWidth":1.5},"encoding":{"x":{"datum":0,"type":"quantitative","scale":{"domain":[0,6],"range":[620,780.8],"nice":false,"zero":false}},"y":{"datum":72.9,"type":"quantitative","scale":{"domain":[30,60],"range":[340,275],"nice":false,"zero":false}},"y2":{"datum":25.85}}},
{"data":{"values":[{}]},"mark":{"type":"rule","color":"#161616","strokeWidth":2},"encoding":{"x":{"datum":0,"type":"quantitative","scale":{"domain":[0,6],"range":[620,780.8],"nice":false,"zero":false}},"x2":{"datum":6.24},"y":{"datum":25.85,"type":"quantitative","scale":{"domain":[30,60],"range":[340,275],"nice":false,"zero":false}}}},
{"data":{"name":"ins_ticks"},"transform":[{"filter":"!datum.major"}],"mark":{"type":"rule","color":"#161616","strokeWidth":1.5},"encoding":{"x":{"field":"f","type":"quantitative","scale":{"domain":[0,6],"range":[620,780.8],"nice":false,"zero":false}},"y":{"datum":25.85,"type":"quantitative","scale":{"domain":[30,60],"range":[340,275],"nice":false,"zero":false}},"y2":{"datum":22.15}}},
{"data":{"name":"ins_ticks"},"transform":[{"filter":"datum.major"}],"mark":{"type":"rule","color":"#161616","strokeWidth":1.5},"encoding":{"x":{"field":"f","type":"quantitative","scale":{"domain":[0,6],"range":[620,780.8],"nice":false,"zero":false}},"y":{"datum":25.85,"type":"quantitative","scale":{"domain":[30,60],"range":[340,275],"nice":false,"zero":false}},"y2":{"datum":19.4}}},
{"data":{"name":"ins_text"},"transform":[{"filter":"datum.role==='heading'"}],"mark":{"type":"text","align":"left","baseline":"middle","font":"DejaVu Sans Mono","fontWeight":"bold","fontSize":18,"color":"#27a66d"},"encoding":{"x":{"field":"f","type":"quantitative","scale":{"domain":[0,6],"range":[620,780.8],"nice":false,"zero":false}},"y":{"field":"d","type":"quantitative","scale":{"domain":[30,60],"range":[340,275],"nice":false,"zero":false}},"text":{"field":"text"}}},
{"data":{"name":"ins_text"},"transform":[{"filter":"datum.role==='value'"}],"mark":{"type":"text","align":"left","baseline":"middle","font":"DejaVu Sans Mono","fontWeight":"bold","fontSize":18,"color":"#1c1c1c"},"encoding":{"x":{"field":"f","type":"quantitative","scale":{"domain":[0,6],"range":[620,780.8],"nice":false,"zero":false}},"y":{"field":"d","type":"quantitative","scale":{"domain":[30,60],"range":[340,275],"nice":false,"zero":false}},"text":{"field":"text"}}},
{"data":{"name":"ins_text"},"transform":[{"filter":"datum.role==='unit'"}],"mark":{"type":"text","align":"left","baseline":"middle","font":"DejaVu Sans Mono","fontSize":11,"color":"#1c1c1c"},"encoding":{"x":{"field":"f","type":"quantitative","scale":{"domain":[0,6],"range":[620,780.8],"nice":false,"zero":false}},"y":{"field":"d","type":"quantitative","scale":{"domain":[30,60],"range":[340,275],"nice":false,"zero":false}},"text":{"field":"text"}}},
{"data":{"name":"ins_text"},"transform":[{"filter":"datum.role==='axis'"}],"mark":{"type":"text","align":"right","baseline":"middle","font":"DejaVu Sans Mono","fontWeight":"bold","fontSize":17,"color":"#1c1c1c"},"encoding":{"x":{"field":"f","type":"quantitative","scale":{"domain":[0,6],"range":[620,780.8],"nice":false,"zero":false}},"y":{"field":"d","type":"quantitative","scale":{"domain":[30,60],"range":[340,275],"nice":false,"zero":false}},"text":{"field":"text"}}}
],
"resolve":{"scale":{"x":"independent","y":"independent"}}
}
